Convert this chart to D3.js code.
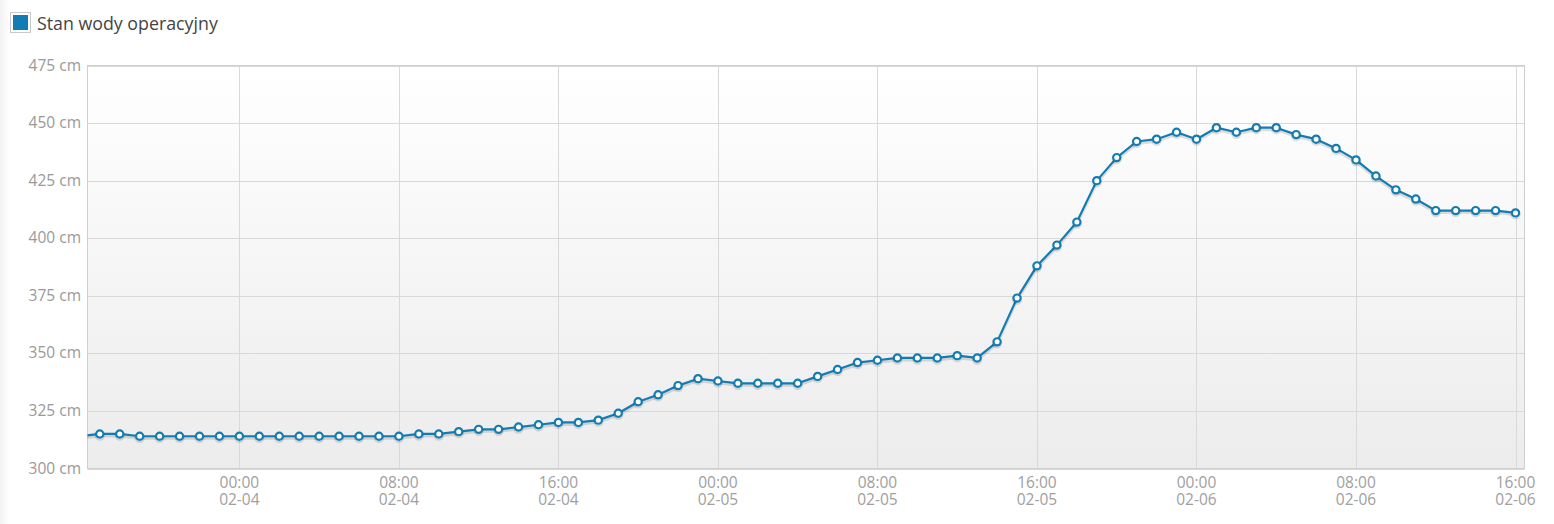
<!DOCTYPE html>
<html><head><meta charset="utf-8">
<script src="https://cdn.jsdelivr.net/npm/d3@7"></script>
<style>
html,body{margin:0;padding:0;background:#fff;}
svg{display:block;font-family:"Open Sans",sans-serif;}
</style></head>
<body>
<svg id="chart" width="1554" height="524"></svg>
<script>
const seriesName = "Stan wody operacyjny";
const startTime = "2023-02-03T16:00:00Z";          // first (clipped) hourly reading
const domainStart = "2023-02-03T16:23:00Z";
const domainEnd = "2023-02-06T16:27:00Z";
// hourly water level readings [cm], from 16:00 02-03 to 16:00 02-06
const levels = [314,
  315,315,314,314,314,314,314,314,314,314,314,314,314,314,314,314,
  315,315,316,317,317,318,319,320,320,321,324,329,332,336,339,338,
  337,337,337,337,340,343,346,347,348,348,348,349,348,355,374,388,
  397,407,425,435,442,443,446,443,448,446,448,448,445,443,439,434,
  427,421,417,412,412,412,412,411];
const yTicks = [300,325,350,375,400,425,450,475];
const xTicks = ["2023-02-04T00:00:00Z","2023-02-04T08:00:00Z","2023-02-04T16:00:00Z",
  "2023-02-05T00:00:00Z","2023-02-05T08:00:00Z","2023-02-05T16:00:00Z",
  "2023-02-06T00:00:00Z","2023-02-06T08:00:00Z","2023-02-06T16:00:00Z"];

const color = "#137cb2";
const svg = d3.select("#chart");
const L = 87.5, R = 1524.5, T = 65.5, B = 468.5;

const t0 = new Date(startTime);
const data = levels.map((v,i)=>({t:d3.utcHour.offset(t0,i), v}));

const x = d3.scaleUtc().domain([new Date(domainStart), new Date(domainEnd)]).range([L,R]);
const y = d3.scaleLinear().domain([300,475]).range([B,T]);

const defs = svg.append("defs");
const lg = defs.append("linearGradient").attr("id","bg").attr("x1",0).attr("y1",0).attr("x2",0).attr("y2",1);
lg.append("stop").attr("offset","0%").attr("stop-color","#ffffff");
lg.append("stop").attr("offset","100%").attr("stop-color","#ececec");
const lg2 = defs.append("linearGradient").attr("id","side").attr("x1",0).attr("y1",0).attr("x2",1).attr("y2",0);
lg2.append("stop").attr("offset","0%").attr("stop-color","#f2f2f2");
lg2.append("stop").attr("offset","100%").attr("stop-color","#ffffff");
defs.append("clipPath").attr("id","clip").append("rect")
  .attr("x",L).attr("y",T-6).attr("width",R-L+6).attr("height",B-T+12);
defs.append("clipPath").attr("id","clipLine").append("rect")
  .attr("x",L).attr("y",T).attr("width",R-L).attr("height",B-T);

svg.append("rect").attr("x",0).attr("y",0).attr("width",10).attr("height",524).attr("fill","url(#side)");

// legend
svg.append("rect").attr("x",10.5).attr("y",12.5).attr("width",20).attr("height",20)
  .attr("fill","#fff").attr("stroke","#c8c8c8");
svg.append("rect").attr("x",13).attr("y",15).attr("width",15).attr("height",15).attr("fill",color);
svg.append("text").attr("x",37).attr("y",30).attr("font-size",17.8).attr("fill","#444").text(seriesName);

// plot background
svg.append("rect").attr("x",L).attr("y",T).attr("width",R-L).attr("height",B-T).attr("fill","url(#bg)");

// grid
const g = svg.append("g");
g.selectAll(".hg").data(yTicks).join("line")
  .attr("x1",L).attr("x2",R).attr("y1",d=>Math.round(y(d))+0.5).attr("y2",d=>Math.round(y(d))+0.5)
  .attr("stroke","#d9d9d9").attr("stroke-width",1);
g.selectAll(".vg").data(xTicks).join("line")
  .attr("x1",d=>Math.round(x(new Date(d)))+0.5).attr("x2",d=>Math.round(x(new Date(d)))+0.5)
  .attr("y1",T).attr("y2",B).attr("stroke","#d9d9d9").attr("stroke-width",1);
svg.append("rect").attr("x",L).attr("y",T).attr("width",R-L).attr("height",B-T)
  .attr("fill","none").attr("stroke","#cfcfcf");

// axes labels
const fmtT = d3.utcFormat("%H:%M"), fmtD = d3.utcFormat("%m-%d");
svg.selectAll(".yl").data(yTicks).join("text")
  .attr("x",81).attr("y",d=>y(d)+5).attr("text-anchor","end")
  .attr("font-size",15.5).attr("fill","#999").text(d=>d+" cm");
const xl = svg.selectAll(".xl").data(xTicks).join("text")
  .attr("text-anchor","middle").attr("font-size",15.5).attr("fill","#a0a0a0");
xl.append("tspan").attr("x",d=>x(new Date(d))).attr("y",488).text(d=>fmtT(new Date(d)));
xl.append("tspan").attr("x",d=>x(new Date(d))).attr("y",505).text(d=>fmtD(new Date(d)));

// line
const line = d3.line().x(d=>x(d.t)).y(d=>y(d.v));
const pl = svg.append("g").attr("clip-path","url(#clipLine)");
pl.append("path").datum(data).attr("d",line).attr("fill","none")
  .attr("stroke","rgba(0,0,0,0.12)").attr("stroke-width",3).attr("transform","translate(0,2)");
pl.append("path").datum(data).attr("d",line).attr("fill","none")
  .attr("stroke",color).attr("stroke-width",2.2).attr("stroke-linejoin","round");

// markers
const visible = data.filter(d=>d.t>=x.domain()[0] && d.t<=x.domain()[1]);
const mk = svg.append("g").attr("clip-path","url(#clip)");
mk.selectAll(".sh").data(visible).join("circle")
  .attr("cx",d=>x(d.t)).attr("cy",d=>y(d.v)+1.5).attr("r",4.2)
  .attr("fill","none").attr("stroke","rgba(0,0,0,0.12)").attr("stroke-width",2);
mk.selectAll(".pt").data(visible).join("circle")
  .attr("cx",d=>x(d.t)).attr("cy",d=>y(d.v)).attr("r",3.6)
  .attr("fill","#fff").attr("stroke",color).attr("stroke-width",2.2);
</script>
</body></html>
